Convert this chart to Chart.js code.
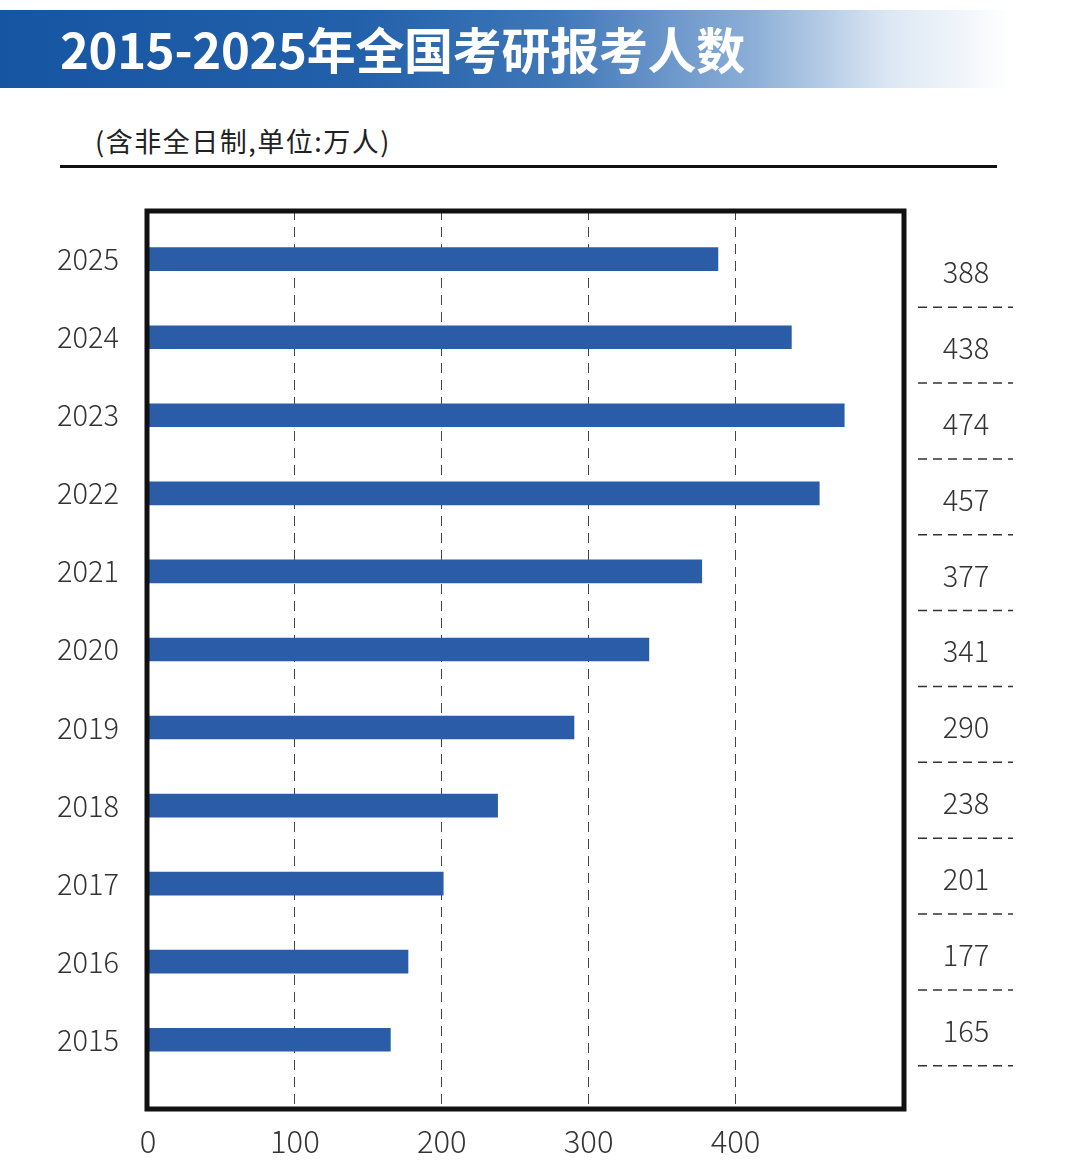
<!DOCTYPE html>
<html>
<head>
<meta charset="utf-8">
<script src="https://cdn.jsdelivr.net/npm/chart.js@4"></script>
<style>
  html, body { margin: 0; padding: 0; background: #fff; }
  body { width: 1080px; height: 1172px; position: relative; overflow: hidden; font-family: "Noto Sans CJK SC", "Noto Sans", sans-serif; }
  .banner {
    position: absolute; left: 0; top: 10px; width: 1010px; height: 78px;
    background: linear-gradient(to right, #1655a2 0%, #2260aa 35%, #3f77b8 55%, #8eb0d8 75%, #dce7f4 88%, rgba(255,255,255,0) 100%);
  }
  .title {
    position: absolute; left: 60px; top: 12px; color: #fff; font-weight: bold;
    font-size: 49px; line-height: 72px; letter-spacing: -0.3px; white-space: nowrap;
  }
  .sub {
    position: absolute; left: 95px; top: 123px; font-size: 27px; line-height: 36px; color: #222; letter-spacing: 1.5px;
  }
  .rule { position: absolute; left: 60px; top: 165px; width: 937px; height: 3px; background: #111; }
  #chart { position: absolute; left: 0; top: 0; z-index: 2; }
</style>
</head>
<body>
<div class="banner"></div>
<div class="title">2015-2025年全国考研报考人数</div>
<div class="sub">(含非全日制,单位:万人)</div>
<div class="rule"></div>
<canvas id="chart" width="1080" height="1172"></canvas>
<script>
const years = [2025, 2024, 2023, 2022, 2021, 2020, 2019, 2018, 2017, 2016, 2015];
const applicants = [388, 438, 474, 457, 377, 341, 290, 238, 201, 177, 165];
const xTicks = [0, 100, 200, 300, 400];

const fontFamily = "'Noto Sans CJK SC', 'Noto Sans', sans-serif";

// box frame + value table on the right
const framePlugin = {
  id: "frame",
  afterDraw(chart) {
    const { ctx, chartArea: a, scales } = chart;
    ctx.save();
    ctx.strokeStyle = "#111";
    ctx.lineWidth = 5;
    ctx.strokeRect(a.left - 1, a.top + 1, a.right - a.left + 2, a.bottom - a.top - 2);

    const top = scales.y.getPixelForValue(years[0]) + 13;
    const bottom = scales.y.getPixelForValue(years[years.length - 1]) - 9;
    const step = (bottom - top) / (years.length - 1);
    ctx.font = "300 29px " + fontFamily;
    ctx.fillStyle = "#333";
    ctx.textAlign = "center";
    ctx.textBaseline = "middle";
    ctx.strokeStyle = "#333";
    ctx.lineWidth = 1.5;
    ctx.setLineDash([9, 6]);
    applicants.forEach((v, i) => {
      const y = top + i * step;
      ctx.fillText(String(v), 966, y);
      ctx.beginPath();
      ctx.moveTo(918, y + 35);
      ctx.lineTo(1013, y + 35);
      ctx.stroke();
    });
    ctx.restore();
  },
};

new Chart(document.getElementById("chart"), {
  type: "bar",
  data: {
    datasets: [
      {
        data: years.map((y, i) => ({ x: applicants[i], y: y })),
        backgroundColor: "#2b5ca8",
        barThickness: 23,
      },
    ],
  },
  options: {
    indexAxis: "y",
    responsive: false,
    animation: false,
    layout: { padding: { top: 210, right: 177, left: 0, bottom: 0 } },
    plugins: { legend: { display: false }, tooltip: { enabled: false } },
    scales: {
      x: {
        type: "linear",
        min: 0,
        max: 514,
        afterBuildTicks: (s) => { s.ticks = xTicks.map((v) => ({ value: v })); },
        afterFit: (s) => { s.height = 62; },
        grid: { color: "#444", lineWidth: 1, drawTicks: false },
        border: { display: false, dash: [10, 7] },
        ticks: { color: "#333", font: { family: fontFamily, size: 31, weight: 300 }, padding: 13 },
      },
      y: {
        type: "linear",
        offset: false,
        min: 2014.1,
        max: 2025.63,
        afterBuildTicks: (s) => { s.ticks = years.map((v) => ({ value: v })); },
        afterFit: (s) => { s.width = 148; },
        grid: { display: false, offset: false },
        border: { display: false },
        ticks: { color: "#333", font: { family: fontFamily, size: 29, weight: 300 }, padding: 21, callback: (v) => String(v) },
      },
    },
  },
  plugins: [framePlugin],
});
</script>
</body>
</html>
